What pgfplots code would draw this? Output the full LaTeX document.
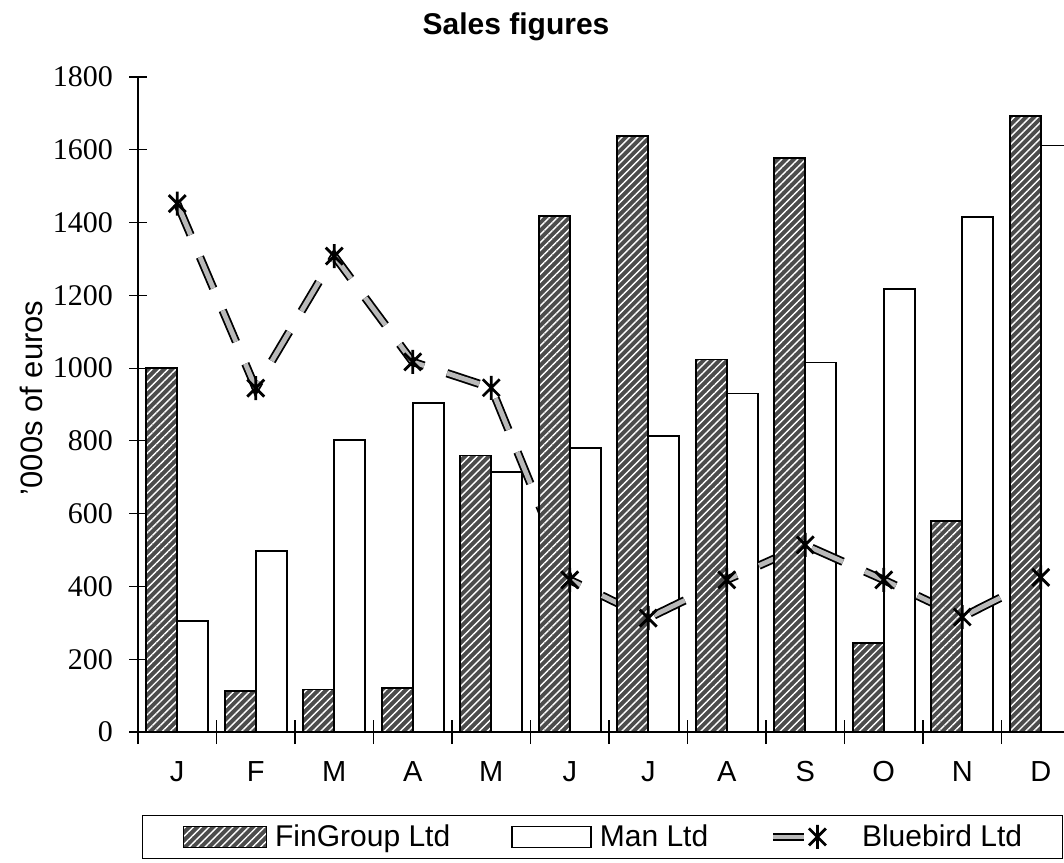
\documentclass[border=0pt]{standalone}
\usepackage{pgfplots}
\pgfplotsset{compat=1.18}
\usepackage{fontspec}
\setmainfont{Liberation Sans}
\newfontfamily\tnr{Liberation Serif}
\usetikzlibrary{patterns.meta}

\pgfdeclareplotmark{xast}{%
  \pgfpathmoveto{\pgfpointpolar{90}{\pgfplotmarksize}}\pgfpathlineto{\pgfpointpolar{270}{\pgfplotmarksize}}%
  \pgfpathmoveto{\pgfpointpolar{45}{\pgfplotmarksize}}\pgfpathlineto{\pgfpointpolar{225}{\pgfplotmarksize}}%
  \pgfpathmoveto{\pgfpointpolar{135}{\pgfplotmarksize}}\pgfpathlineto{\pgfpointpolar{315}{\pgfplotmarksize}}%
  \pgfusepathqstroke}

\pgfplotstableread{
x fin man blue
0 1000 305 1452
1 113 497 945
2 117 802 1308
3 121 904 1017
4 760 715 946
5 1418 780 418
6 1638 814 313
7 1024 930 418
8 1577 1015 514
9 245 1218 418
10 580 1415 316
11 1692 1612 425
}\sales

\begin{document}
\begin{tikzpicture}
\begin{axis}[
  at={(0,0)}, anchor=south west,
  scale only axis,
  width=471pt, height=327.5pt,
  xmin=-0.5, xmax=11.5,
  ymin=0, ymax=1800,
  axis x line*=bottom, axis y line*=left,
  axis line style={-, black, line width=0.8pt},
  ytick={0,200,...,1800},
  xtick={0,...,11},
  xticklabels={J,F,M,A,M,J,J,A,S,O,N,D},
  minor xtick={-0.5,0.5,...,11.5},
  major x tick style={draw=none},
  tick align=center,
  major tick length=9pt,
  minor tick length=12pt,
  tick style={black, line width=0.6pt},
  /pgf/number format/assume math mode=true,
  /pgf/number format/1000 sep={},
  yticklabel style={font=\tnr\fontsize{15}{18}\selectfont, xshift=-4.5pt},
  xticklabel style={font=\fontsize{14.5}{17}\selectfont, anchor=base, yshift=-20pt},
  title={Sales figures},
  title style={font=\bfseries\fontsize{15}{18}\selectfont, at={(0.4013,1.047)}, anchor=base},
  ylabel={'000s of euros},
  ylabel style={font=\fontsize{15.5}{18}\selectfont, at={(-0.1136,0.51)}, anchor=center},
  legend columns=3,
  legend style={at={(0.0042,-0.1267)}, anchor=north west, draw=black, line width=0.6pt,
    inner xsep=20pt, inner ysep=4.5pt,
    font=\fontsize{15}{18}\selectfont,
    nodes={inner sep=0pt},
    /tikz/every odd column/.append style={column sep=4pt},
    /tikz/every even column/.append style={column sep=30.5pt}},
]
\addlegendimage{legend image code/.code={
  \draw[draw=black, line width=0.8pt, fill=black!70,
    postaction={pattern={Lines[angle=45,distance=2.8pt,line width=0.7pt]}, pattern color=white}]
    (0pt,-5.25pt) rectangle (41.5pt,5.25pt);}}
\addlegendentry{FinGroup Ltd}
\addlegendimage{legend image code/.code={
  \draw[draw=black, line width=0.8pt, fill=white] (0pt,-5.25pt) rectangle (39.5pt,5.25pt);}}
\addlegendentry{Man Ltd}
\addlegendimage{legend image code/.code={
  \draw[draw=black, double=gray!55, line width=0.9pt, double distance=2.4pt] (0pt,0pt) -- (15.5pt,0pt);
  \begin{scope}
  \pgfsetlinewidth{1.4pt}\pgfsetstrokecolor{black}\pgfsetplotmarksize{6pt}
  \pgftransformshift{\pgfpoint{22pt}{0pt}}\pgfuseplotmark{xast}
  \end{scope}
  \path (40pt,0pt);}}
\addlegendentry{Bluebird Ltd\hspace{12pt}}

\addplot[forget plot, ybar, bar width=15.5pt, bar shift=7.75pt, fill=white, draw=black, line width=0.8pt]
  table[x=x, y=man] {\sales};
\addplot[forget plot, no marks, draw=black, double=gray!55, line width=0.9pt, double distance=2.4pt,
  dash pattern=on 17pt off 12pt]
  table[x=x, y=blue] {\sales};
\addplot[forget plot, ybar, bar width=15.5pt, bar shift=-7.75pt, draw=black, line width=0.8pt, fill=black!70,
  postaction={pattern={Lines[angle=45,distance=2.8pt,line width=0.7pt]}, pattern color=white}]
  table[x=x, y=fin] {\sales};
\addplot[forget plot, only marks, mark=xast, mark size=6pt, mark options={draw=black, line width=1.4pt}]
  table[x=x, y=blue] {\sales};
\end{axis}
\pgfresetboundingbox
\path[use as bounding box] (-69pt,-65pt) rectangle (463pt,366pt);
\end{tikzpicture}
\end{document}
